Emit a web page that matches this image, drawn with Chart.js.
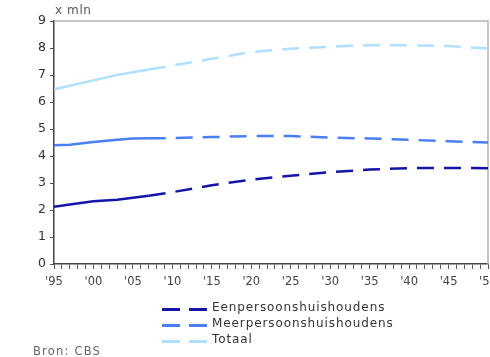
<!DOCTYPE html>
<html>
<head>
<meta charset="utf-8">
<script src="https://cdn.jsdelivr.net/npm/chart.js@4/dist/chart.umd.min.js"></script>
<style>
  body { margin: 0; background: #fff; font-family: "DejaVu Sans", Verdana, sans-serif; color: #444; }
  #wrap { position: relative; width: 490px; height: 357px; overflow: hidden; }
  .txt { position: absolute; font-size: 11px; white-space: nowrap; }
  .leg { position: absolute; left: 162px; height: 14px; }
  .leg span.d { position: absolute; top: 6px; width: 18px; height: 3px; }
  .leg span.t { position: absolute; left: 50px; top: -2px; font-size: 12px; letter-spacing: 0.9px; color: #333; }
</style>
</head>
<body>
<div id="wrap">
  <canvas id="huishoudensChart" width="490" height="357"></canvas>
  <div class="txt" style="left:55px; top:3px; color:#555; font-size:12px; letter-spacing:0.6px;">x mln</div>
  <div id="legend"></div>
  <div class="txt" style="left:33px; top:344px; color:#666; font-size:11.5px; letter-spacing:1.2px;">Bron: CBS</div>
</div>
<script>
years = [1995, 1997, 2000, 2003, 2005, 2007, 2010, 2015, 2020, 2025, 2030, 2035, 2040, 2045, 2050];
eenpersoons = [2.12, 2.2, 2.32, 2.38, 2.45, 2.53, 2.66, 2.92, 3.12, 3.27, 3.4, 3.5, 3.55, 3.56, 3.55];
meerpersoons = [4.4, 4.42, 4.52, 4.6, 4.65, 4.66, 4.66, 4.7, 4.74, 4.74, 4.68, 4.65, 4.6, 4.55, 4.5];
totaal = [6.47, 6.6, 6.8, 7.0, 7.1, 7.2, 7.35, 7.6, 7.85, 7.97, 8.05, 8.1, 8.1, 8.07, 7.98];
seriesLabels = ["Eenpersoonshuishoudens", "Meerpersoonshuishoudens", "Totaal"];
prognoseVanaf = 2007;

color = {
  Dark: "#1414a8",
  Mid: "#4a7ff2",
  Light: "#b0e0ff",
};

function makeDataset(inputlabel, inputdata, c) {
  return {
    label: inputlabel,
    data: years.map((y, i) => ({ x: y, y: inputdata[i] })),
    borderColor: c,
    backgroundColor: c,
    borderWidth: 2.5,
    pointRadius: 0,
    tension: 0,
    segment: {
      borderDash: (ctx) => (ctx.p0.parsed.x >= prognoseVanaf ? [17, 10] : undefined),
    },
  };
}

datasets = [
  makeDataset(seriesLabels[0], eenpersoons, color.Dark),
  makeDataset(seriesLabels[1], meerpersoons, color.Mid),
  makeDataset(seriesLabels[2], totaal, color.Light),
];

// legend rows
var legendEl = document.getElementById("legend");
datasets.forEach((ds, i) => {
  var row = document.createElement("div");
  row.className = "leg";
  row.style.top = 302 + i * 16 + "px";
  row.innerHTML =
    '<span class="d" style="left:0;background:' + ds.borderColor + '"></span>' +
    '<span class="d" style="left:27px;background:' + ds.borderColor + '"></span>' +
    '<span class="t">' + ds.label + "</span>";
  legendEl.appendChild(row);
});

const frame = {
  id: "frame",
  beforeDatasetsDraw(chart) {
    const a = chart.chartArea, c = chart.ctx;
    c.save();
    c.strokeStyle = "#b8b2b2";
    c.lineWidth = 1.5;
    c.beginPath();
    c.moveTo(a.left, a.top);
    c.lineTo(a.right, a.top);
    c.lineTo(a.right, a.bottom);
    c.stroke();
    c.restore();
  },
};

huishoudensChart = new Chart(document.getElementById("huishoudensChart"), {
  type: "line",
  data: { datasets: datasets },
  plugins: [frame],
  options: {
    responsive: false,
    animation: false,
    layout: { padding: { top: 21, right: 2, left: 0, bottom: 0 } },
    plugins: { legend: { display: false }, tooltip: { enabled: false } },
    scales: {
      x: {
        type: "linear",
        min: 1995,
        max: 2050,
        afterFit: (s) => { s.height = 93; s.paddingRight = 0; s.paddingLeft = 0; },
        border: { color: "#444", width: 1.5 },
        grid: { drawOnChartArea: false, tickLength: 5, color: "#555" },
        ticks: {
          stepSize: 1,
          autoSkip: false,
          maxRotation: 0,
          color: "#444",
          font: { family: "DejaVu Sans", size: 11.5 },
          padding: 6,
          callback: (v) => (v % 5 === 0 ? "'" + String(v).slice(2) : ""),
        },
      },
      y: {
        min: 0,
        max: 9,
        afterFit: (s) => { s.width = 54; s.paddingTop = 0; s.paddingBottom = 0; },
        border: { color: "#444", width: 1.5 },
        grid: { drawOnChartArea: false, tickLength: 4, color: "#555" },
        ticks: {
          stepSize: 1,
          color: "#333",
          font: { family: "DejaVu Sans", size: 12.5 },
          padding: 4,
        },
      },
    },
  },
});
</script>
</body>
</html>
